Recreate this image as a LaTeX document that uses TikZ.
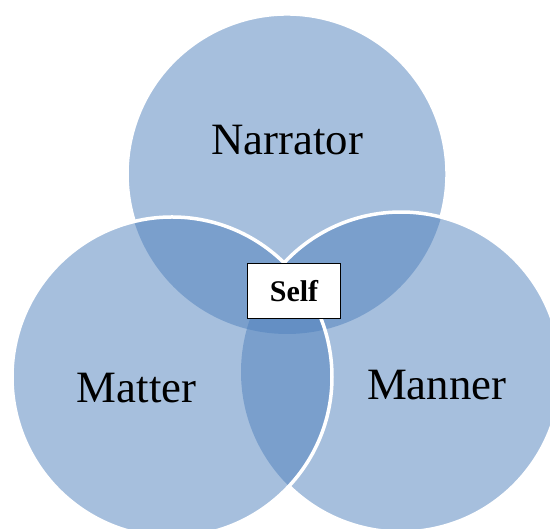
\documentclass[tikz,border=0pt]{standalone}
\usepackage{fontspec}
\setmainfont{Liberation Serif}
\definecolor{vennblue}{HTML}{4F81BD}
\begin{document}
\begin{tikzpicture}[x=1pt,y=1pt,
  disc/.style={fill=vennblue, fill opacity=0.5},
  rim/.style={draw=white, line width=3.5pt},
  setname/.style={font=\fontsize{44.8}{54}\selectfont, anchor=base, inner sep=0pt},
  centrebox/.style={draw=black, line width=1.2pt, fill=white,
    minimum width=93.4pt, minimum height=55pt, inner sep=0pt,
    font=\fontsize{30}{36}\selectfont\bfseries}]
\fill[white] (0,0) rectangle (550,529);
\clip (0,0) rectangle (550,529);
\coordinate (cT) at (287,355);
\coordinate (cL) at (172,152);
\coordinate (cR) at (401,157);
% translucent discs, top first, left last
\fill[disc] (cT) circle[radius=160];
\fill[disc] (cR) circle[radius=160];
\fill[disc] (cL) circle[radius=160];
% white rims: the earlier discs keep theirs only outside the later discs
\draw[rim] (cT) ++(-15.64:160) arc[start angle=-15.64, end angle=197.28, radius=160];
\draw[rim] (cR) ++(-134.46:160) arc[start angle=-134.46, end angle=136.96, radius=160];
\draw[rim] (cL) circle[radius=160];
% set names
\node[setname] (narrator) at (287.3,374) {Narrator};
\node[setname] (matter) at (136.7,126) {Matter};
\node[setname] (manner) at (436.7,129) {Manner};
% label of the common core
\node[centrebox] (self) at (294,238.2) {Self};
\end{tikzpicture}
\end{document}
